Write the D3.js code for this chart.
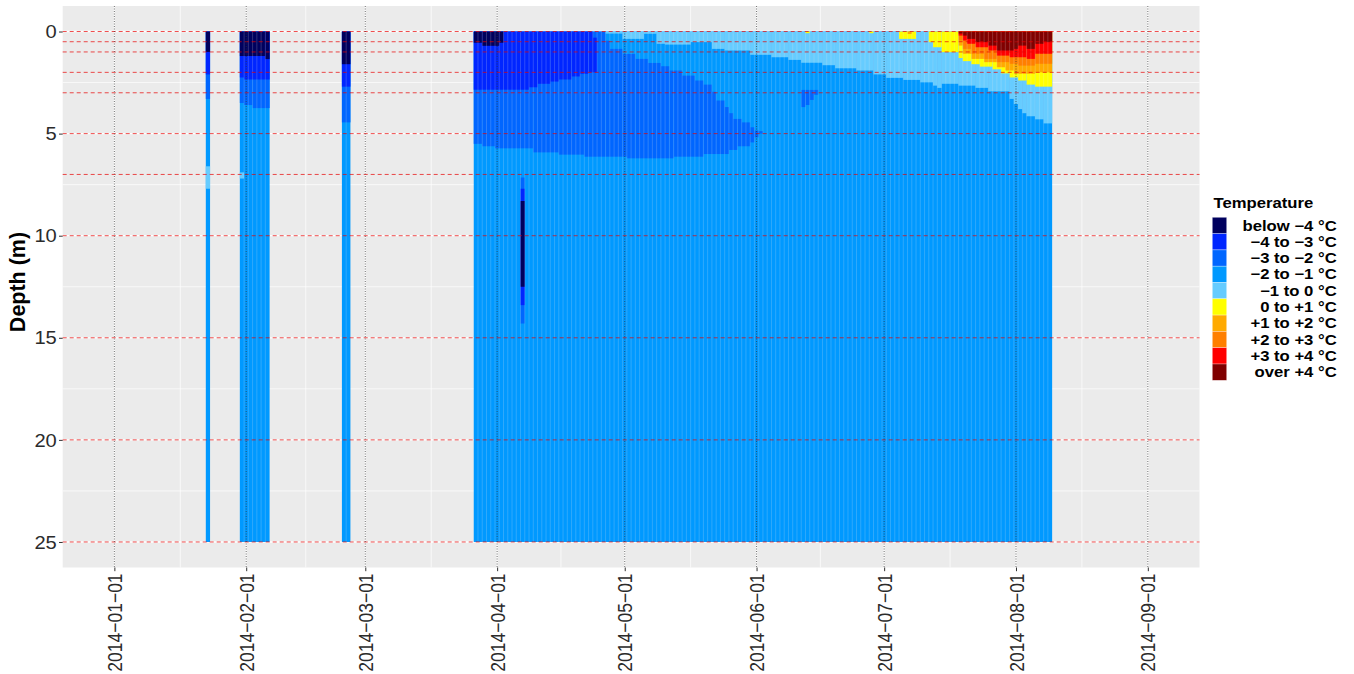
<!DOCTYPE html>
<html>
<head>
<meta charset="utf-8">
<script src="https://cdn.jsdelivr.net/npm/d3@7"></script>
<style>
  body { margin: 0; background: #fff; }
  svg { display: block; font-family: "Liberation Sans", Arial, Helvetica, sans-serif; }
</style>
</head>
<body>
<div class="chart"></div>
<script>
// temperature classes, legend order (coldest first)
const classLabels = ["below −4 °C", "−4 to −3 °C", "−3 to −2 °C", "−2 to −1 °C", "−1 to 0 °C",
                     "0 to +1 °C", "+1 to +2 °C", "+2 to +3 °C", "+3 to +4 °C", "over +4 °C"]
const classColors = ["#00005e", "#0026ff", "#0066ff", "#0099ff", "#66ccff",
                     "#ffff00", "#ffaa00", "#ff7f00", "#ff0000", "#800000"]

const depthTicks = [0, 5, 10, 15, 20, 25]
const dateTicks = ["2014-01-01", "2014-02-01", "2014-03-01", "2014-04-01", "2014-05-01",
                   "2014-06-01", "2014-07-01", "2014-08-01", "2014-09-01"]
// logger depths, drawn as dashed red lines
const sensorDepths = [0, 0.5, 1, 2, 3, 5, 7, 10, 15, 20, 25]

// runs of daily columns: [first day, last day, top depth (m), bottom depth (m)]
const m2to1 = [
  ["2014-01-23", "2014-01-23", 0, 25],
  ["2014-01-31", "2014-02-06", 0, 25],
  ["2014-02-24", "2014-02-25", 0, 25],
  ["2014-03-27", "2014-08-09", 0, 25]
]
const m3to2 = [
  ["2014-01-23", "2014-01-23", 0, 3.3],
  ["2014-01-31", "2014-01-31", 0, 3.5],
  ["2014-02-01", "2014-02-02", 0, 3.6],
  ["2014-02-03", "2014-02-06", 0, 3.75],
  ["2014-02-24", "2014-02-25", 0, 4.45],
  ["2014-03-27", "2014-03-28", 0, 5.5],
  ["2014-03-29", "2014-03-31", 0, 5.62],
  ["2014-04-01", "2014-04-09", 0, 5.72],
  ["2014-04-10", "2014-04-15", 0, 5.92],
  ["2014-04-16", "2014-04-21", 0, 6.03],
  ["2014-04-22", "2014-04-26", 0, 6.13],
  ["2014-04-27", "2014-04-27", 0.45, 6.13],
  ["2014-04-28", "2014-04-30", 0.85, 6.13],
  ["2014-05-01", "2014-05-01", 1.1, 6.13],
  ["2014-05-02", "2014-05-03", 1.1, 6.21],
  ["2014-05-04", "2014-05-06", 1.34, 6.21],
  ["2014-05-07", "2014-05-09", 1.54, 6.21],
  ["2014-05-10", "2014-05-11", 1.7, 6.21],
  ["2014-05-12", "2014-05-12", 1.91, 6.21],
  ["2014-05-13", "2014-05-14", 1.91, 6.13],
  ["2014-05-15", "2014-05-17", 2.16, 6.13],
  ["2014-05-18", "2014-05-19", 2.4, 6.13],
  ["2014-05-20", "2014-05-21", 2.6, 6.0],
  ["2014-05-22", "2014-05-22", 2.95, 6.0],
  ["2014-05-23", "2014-05-24", 3.38, 6.0],
  ["2014-05-25", "2014-05-25", 3.7, 6.0],
  ["2014-05-26", "2014-05-26", 4.0, 5.8],
  ["2014-05-27", "2014-05-27", 4.28, 5.8],
  ["2014-05-28", "2014-05-28", 4.28, 5.62],
  ["2014-05-29", "2014-05-30", 4.45, 5.62],
  ["2014-05-31", "2014-05-31", 4.69, 5.43],
  ["2014-06-01", "2014-06-01", 4.85, 5.18],
  ["2014-06-02", "2014-06-02", 4.88, 5.0],
  ["2014-06-12", "2014-06-12", 2.86, 3.7],
  ["2014-06-13", "2014-06-13", 2.86, 3.6],
  ["2014-06-14", "2014-06-14", 2.86, 3.35],
  ["2014-06-15", "2014-06-15", 2.86, 3.1],
  ["2014-04-07", "2014-04-07", 7.15, 14.3]
]
const m4to3 = [
  ["2014-01-23", "2014-01-23", 0, 2.1],
  ["2014-01-31", "2014-01-31", 0, 2.25],
  ["2014-02-01", "2014-02-06", 0, 2.35],
  ["2014-02-24", "2014-02-25", 0, 2.7],
  ["2014-03-27", "2014-04-08", 0, 2.85],
  ["2014-04-09", "2014-04-10", 0, 2.73],
  ["2014-04-11", "2014-04-13", 0, 2.56],
  ["2014-04-14", "2014-04-15", 0, 2.45],
  ["2014-04-16", "2014-04-18", 0, 2.35],
  ["2014-04-19", "2014-04-20", 0, 2.2],
  ["2014-04-21", "2014-04-22", 0, 2.07],
  ["2014-04-23", "2014-04-23", 0, 2.0],
  ["2014-04-24", "2014-04-24", 0.3, 2.0],
  ["2014-04-07", "2014-04-07", 7.7, 13.4]
]
const below4 = [
  ["2014-01-23", "2014-01-23", 0, 1.0],
  ["2014-01-31", "2014-02-05", 0, 1.2],
  ["2014-02-06", "2014-02-06", 0, 1.35],
  ["2014-02-24", "2014-02-25", 0, 1.6],
  ["2014-03-27", "2014-03-28", 0, 0.55],
  ["2014-03-29", "2014-04-01", 0, 0.7],
  ["2014-04-02", "2014-04-02", 0, 0.55],
  ["2014-04-07", "2014-04-07", 8.3, 12.5]
]
const m1to0 = [
  ["2014-01-23", "2014-01-23", 6.6, 7.7],
  ["2014-01-31", "2014-01-31", 6.9, 7.2],
  ["2014-04-27", "2014-04-30", 0, 0.1],
  ["2014-05-01", "2014-05-05", 0, 0.36],
  ["2014-05-06", "2014-05-08", 0, 0.11],
  ["2014-05-09", "2014-05-10", 0, 0.6],
  ["2014-05-11", "2014-05-16", 0, 0.64],
  ["2014-05-17", "2014-05-21", 0, 0.52],
  ["2014-05-22", "2014-05-24", 0, 0.85],
  ["2014-05-25", "2014-05-30", 0, 0.93],
  ["2014-05-31", "2014-06-04", 0, 1.14],
  ["2014-06-05", "2014-06-08", 0, 1.26],
  ["2014-06-09", "2014-06-11", 0, 1.39],
  ["2014-06-12", "2014-06-16", 0, 1.53],
  ["2014-06-17", "2014-06-19", 0, 1.65],
  ["2014-06-20", "2014-06-24", 0, 1.8],
  ["2014-06-25", "2014-06-28", 0, 1.91],
  ["2014-06-29", "2014-07-01", 0, 2.1],
  ["2014-07-02", "2014-07-05", 0, 2.27],
  ["2014-07-06", "2014-07-09", 0, 2.37],
  ["2014-07-10", "2014-07-12", 0, 2.49],
  ["2014-07-13", "2014-07-13", 0, 2.65],
  ["2014-07-14", "2014-07-14", 0, 2.76],
  ["2014-07-15", "2014-07-18", 0, 2.56],
  ["2014-07-19", "2014-07-22", 0, 2.65],
  ["2014-07-23", "2014-07-25", 0, 2.76],
  ["2014-07-26", "2014-07-30", 0, 2.93],
  ["2014-07-31", "2014-07-31", 0, 3.3],
  ["2014-08-01", "2014-08-01", 0, 3.55],
  ["2014-08-02", "2014-08-02", 0, 3.8],
  ["2014-08-03", "2014-08-03", 0, 4.0],
  ["2014-08-04", "2014-08-05", 0, 4.15],
  ["2014-08-06", "2014-08-07", 0, 4.3],
  ["2014-08-08", "2014-08-09", 0, 4.5]
]
const p0to1 = [
  ["2014-06-13", "2014-06-13", 0, 0.08],
  ["2014-06-28", "2014-06-28", 0, 0.08],
  ["2014-07-05", "2014-07-08", 0, 0.36],
  ["2014-07-12", "2014-07-12", 0, 0.52],
  ["2014-07-13", "2014-07-14", 0, 0.77],
  ["2014-07-15", "2014-07-18", 0, 1.01],
  ["2014-07-19", "2014-07-19", 0, 1.3],
  ["2014-07-20", "2014-07-21", 0, 1.45],
  ["2014-07-22", "2014-07-23", 0, 1.6],
  ["2014-07-24", "2014-07-26", 0, 1.72],
  ["2014-07-27", "2014-07-28", 0, 1.85],
  ["2014-07-29", "2014-07-30", 0, 2.05],
  ["2014-07-31", "2014-08-01", 0, 2.25],
  ["2014-08-02", "2014-08-03", 0, 2.4],
  ["2014-08-04", "2014-08-05", 0, 2.6],
  ["2014-08-06", "2014-08-09", 0, 2.7]
]
const p1to2 = [
  ["2014-07-07", "2014-07-07", 0, 0.12],
  ["2014-07-19", "2014-07-19", 0, 0.69],
  ["2014-07-20", "2014-07-21", 0, 1.09],
  ["2014-07-22", "2014-07-24", 0, 1.34],
  ["2014-07-25", "2014-07-27", 0, 1.5],
  ["2014-07-28", "2014-07-29", 0, 1.75],
  ["2014-07-30", "2014-07-31", 0, 1.91],
  ["2014-08-01", "2014-08-05", 0, 2.07],
  ["2014-08-06", "2014-08-09", 0, 2.0]
]
const p2to3 = [
  ["2014-07-19", "2014-07-19", 0, 0.44],
  ["2014-07-20", "2014-07-21", 0, 0.85],
  ["2014-07-22", "2014-07-24", 0, 1.09],
  ["2014-07-25", "2014-07-27", 0, 1.34],
  ["2014-07-28", "2014-07-30", 0, 1.5],
  ["2014-07-31", "2014-08-01", 0, 1.58],
  ["2014-08-02", "2014-08-05", 0, 1.67],
  ["2014-08-06", "2014-08-09", 0, 1.58]
]
const p3to4 = [
  ["2014-07-19", "2014-07-19", 0, 0.2],
  ["2014-07-20", "2014-07-20", 0, 0.44],
  ["2014-07-21", "2014-07-22", 0, 0.6],
  ["2014-07-23", "2014-07-25", 0, 0.77],
  ["2014-07-26", "2014-07-27", 0, 0.93],
  ["2014-07-28", "2014-07-30", 0, 1.18],
  ["2014-07-31", "2014-08-03", 0, 1.26],
  ["2014-08-04", "2014-08-05", 0, 1.34],
  ["2014-08-06", "2014-08-09", 0, 1.09]
]
const over4 = [
  ["2014-07-19", "2014-07-19", 0, 0.1],
  ["2014-07-20", "2014-07-20", 0, 0.2],
  ["2014-07-21", "2014-07-22", 0, 0.36],
  ["2014-07-23", "2014-07-25", 0, 0.52],
  ["2014-07-26", "2014-07-27", 0, 0.69],
  ["2014-07-28", "2014-07-31", 0, 0.93],
  ["2014-08-01", "2014-08-01", 0, 0.85],
  ["2014-08-02", "2014-08-03", 0, 0.69],
  ["2014-08-04", "2014-08-05", 0, 0.85],
  ["2014-08-06", "2014-08-07", 0, 0.6],
  ["2014-08-08", "2014-08-09", 0, 0.52]
]

// drawing order: each layer paints over the ones before
const layers = [
  {runs: m2to1, cls: 3}, {runs: m3to2, cls: 2}, {runs: m4to3, cls: 1}, {runs: below4, cls: 0},
  {runs: m1to0, cls: 4}, {runs: p0to1, cls: 5}, {runs: p1to2, cls: 6}, {runs: p2to3, cls: 7},
  {runs: p3to4, cls: 8}, {runs: over4, cls: 9}
]

const width = 1354, height = 674
const panel = {left: 62.7, right: 1199.5, top: 6, bottom: 567.5}
const parse = d3.utcParse("%Y-%m-%d")
const fmt = d3.utcFormat("%Y-%m-%d")
const sx = 1.15 // the reference text is drawn slightly wide

const firstTick = parse(dateTicks[0])
const lastTick = parse(dateTicks[dateTicks.length - 1])
const pad = 12.15 * 864e5

const x = d3.scaleUtc()
  .domain([new Date(+firstTick - pad), new Date(+lastTick + pad)])
  .range([panel.left, panel.right])

const y = d3.scaleLinear()
  .domain([-1.25, 26.25])
  .range([panel.top, panel.bottom])

const svg = d3.select(".chart").append("svg")
  .attr("width", width)
  .attr("height", height)

svg.append("rect")
  .attr("x", panel.left).attr("y", panel.top)
  .attr("width", panel.right - panel.left).attr("height", panel.bottom - panel.top)
  .attr("fill", "#ebebeb")

// grid
const dates = dateTicks.map(parse)
const minorDates = d3.pairs(dates).map(([a, b]) => new Date((+a + +b) / 2))
const minorDepths = d3.pairs(depthTicks).map(([a, b]) => (a + b) / 2)
const grid = svg.append("g").attr("stroke", "#fff").attr("fill", "none")

grid.selectAll(".hmin").data(minorDepths).join("line")
  .attr("x1", panel.left).attr("x2", panel.right)
  .attr("y1", d => y(d)).attr("y2", d => y(d))
  .attr("stroke-width", 0.7)
grid.selectAll(".vmin").data(minorDates).join("line")
  .attr("y1", panel.top).attr("y2", panel.bottom)
  .attr("x1", d => x(d)).attr("x2", d => x(d))
  .attr("stroke-width", 0.7)
grid.append("g").selectAll("line").data(depthTicks).join("line")
  .attr("x1", panel.left).attr("x2", panel.right)
  .attr("y1", d => y(d)).attr("y2", d => y(d))
  .attr("stroke-width", 1.3)
grid.append("g").selectAll("line").data(dates).join("line")
  .attr("y1", panel.top).attr("y2", panel.bottom)
  .attr("x1", d => x(d)).attr("x2", d => x(d))
  .attr("stroke-width", 1.3)

// temperature cells
const startOf = d => d3.utcHour.offset(parse(d), -12)
const endOf = d => d3.utcHour.offset(parse(d), 12)

const cells = svg.append("g")
layers.forEach(layer => {
  cells.append("g")
    .attr("fill", classColors[layer.cls])
    .selectAll("rect")
    .data(layer.runs)
    .join("rect")
      .attr("x", d => x(startOf(d[0])))
      .attr("width", d => x(endOf(d[1])) - x(startOf(d[0])))
      .attr("y", d => y(d[2]))
      .attr("height", d => y(d[3]) - y(d[2]))
})

// faint seams between neighbouring daily tiles
const seams = m2to1.flatMap(r => d3.utcDay.range(parse(r[0]), parse(r[1]))
  .map(d => d3.utcHour.offset(d, 12)))

svg.append("g")
  .attr("stroke", "#ebebeb")
  .attr("stroke-opacity", 0.2)
  .selectAll("line")
  .data(seams)
  .join("line")
    .attr("x1", d => x(d)).attr("x2", d => x(d))
    .attr("y1", y(0)).attr("y2", y(25))

// reference lines
svg.append("g")
  .attr("stroke", "#e80000")
  .attr("stroke-opacity", 0.7)
  .attr("stroke-dasharray", "4,3")
  .selectAll("line")
  .data(sensorDepths)
  .join("line")
    .attr("x1", panel.left).attr("x2", panel.right)
    .attr("y1", d => y(d)).attr("y2", d => y(d))

svg.append("g")
  .attr("stroke", "#333")
  .attr("stroke-opacity", 0.7)
  .attr("stroke-dasharray", "1,1.5")
  .selectAll("line")
  .data(dates)
  .join("line")
    .attr("x1", d => x(d)).attr("x2", d => x(d))
    .attr("y1", panel.top).attr("y2", panel.bottom)

// axes
const yAxis = svg.append("g")
  .attr("transform", `translate(${panel.left},0)`)
  .call(d3.axisLeft(y).tickValues(depthTicks).tickSize(3.7).tickPadding(2.2))
yAxis.select(".domain").remove()
yAxis.selectAll("line").attr("stroke", "#333")
yAxis.selectAll("text")
  .attr("x", null)
  .attr("transform", `translate(-5.9,0) scale(${sx},1)`)
  .attr("dy", "0.35em")
  .attr("font-size", 17.5)
  .attr("fill", "#2b2b2b")

const xAxis = svg.append("g")
  .attr("transform", `translate(0,${panel.bottom})`)
  .call(d3.axisBottom(x).tickValues(dates).tickSize(3.7).tickPadding(2.2)
    .tickFormat(d => fmt(d).replace(/-/g, "\u2212")))
xAxis.select(".domain").remove()
xAxis.selectAll("line").attr("stroke", "#333")
xAxis.selectAll("text")
  .attr("y", null).attr("dy", "0.35em")
  .attr("transform", `translate(0,5.9) scale(${sx},1) rotate(-90)`)
  .attr("text-anchor", "end")
  .attr("font-size", 17.5)
  .attr("fill", "#2b2b2b")

svg.append("text")
  .attr("transform", `translate(24.5,282) scale(1.05,1) rotate(-90)`)
  .attr("text-anchor", "middle")
  .attr("font-size", 21.5)
  .attr("font-weight", "bold")
  .text("Depth (m)")

// legend
const legend = svg.append("g")
const keyX = 1212.3, keyY = 217.3, keyW = 14.4, keyH = 16.3

legend.append("text")
  .attr("transform", `translate(1213.5,207.5) scale(${sx},1)`)
  .attr("font-size", 14.5)
  .attr("font-weight", "bold")
  .text("Temperature")

const items = legend.selectAll(".item")
  .data(classLabels)
  .join("g")
    .attr("transform", (d, i) => `translate(0,${keyY + i * keyH})`)

items.append("rect")
  .attr("x", keyX).attr("width", keyW).attr("height", keyH)
  .attr("fill", (d, i) => classColors[i])
  .attr("stroke", "#fff").attr("stroke-opacity", 0.5).attr("stroke-width", 0.6)

items.append("text")
  .attr("transform", `translate(1336.7,${keyH / 2}) scale(${sx},1)`)
  .attr("dy", "0.35em")
  .attr("text-anchor", "end")
  .attr("font-size", 14.5)
  .attr("font-weight", "bold")
  .style("white-space", "pre")
  .text(d => d)
</script>
</body>
</html>
